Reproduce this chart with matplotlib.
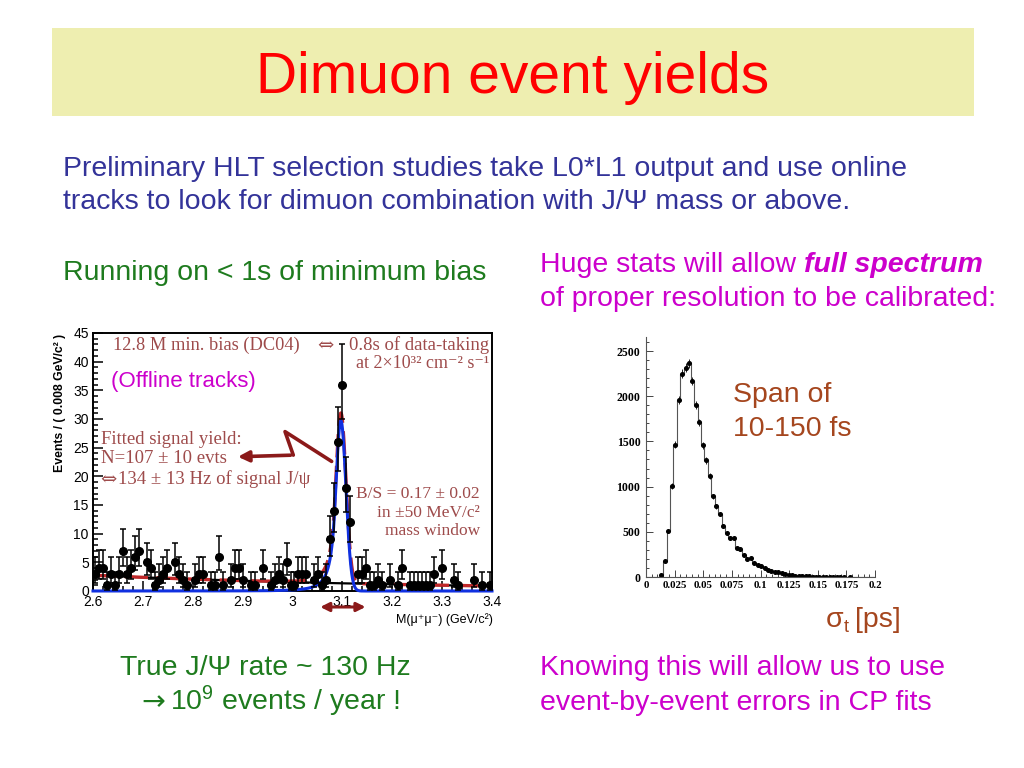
import numpy as np
import matplotlib
matplotlib.use("Agg")
import matplotlib.pyplot as plt
from matplotlib.patches import Rectangle
from matplotlib.ticker import MultipleLocator, FixedLocator, FuncFormatter

# ---------------- data: dimuon mass spectrum (left) ----------------
mass_lo = 2.6
mass_hi = 3.4
mass_bin = 0.008
mass_counts = [3, 4, 4, 1, 3, 1, 3, 7, 3, 4, 6, 7,
               0, 5, 4, 1, 2, 3, 4, 0, 5, 3, 2, 1,
               0, 2, 3, 3, 0, 1, 1, 6, 1, 0, 2, 4,
               4, 2, 0, 1, 1, 0, 4, 0, 1, 2, 3, 2,
               5, 1, 1, 3, 3, 3, 0, 2, 3, 1, 2,
               9, 14, 26, 36, 18, 12,
               0, 3, 3, 4, 1, 1, 2, 1, 0, 2, 0, 1,
               4, 0, 1, 1, 1, 1, 1, 1, 3, 0, 4, 0,
               0, 2, 1, 0, 0, 0, 2, 0, 1, 0, 1]

# fit parameters (Crystal-Ball signal + exponential background)
fit_mean = 3.097
fit_sigma = 0.0102
fit_nsig = 107
fit_alpha = 1.2
fit_n = 3.0
bkg_at_lo = 2.75      # events / bin at 2.6
bkg_at_hi = 0.87      # events / bin at 3.4

mass_xticks = [2.6, 2.7, 2.8, 2.9, 3.0, 3.1, 3.2, 3.3, 3.4]
mass_yticks = [0, 5, 10, 15, 20, 25, 30, 35, 40, 45]

# ---------------- data: sigma_t distribution (right) ----------------
sigt_bin = 0.003
sigt_counts = [0, 0, 0, 0, 26, 177, 505, 1010, 1464, 1962, 2249, 2316,
               2364, 2168, 1899, 1711, 1456, 1290, 1121, 892, 785, 697,
               564, 487, 435, 428, 324, 310, 247, 195, 206, 159, 133, 122,
               100, 74, 70, 55, 52, 40, 30, 25, 20, 15, 12, 10, 8, 6, 5,
               4, 4, 3, 3, 2, 2, 1, 1, 1, 0, 1, 0, 0, 0, 0, 0, 0, 0]
sigt_xticks = [0, 0.025, 0.05, 0.075, 0.1, 0.125, 0.15, 0.175, 0.2]
sigt_yticks = [0, 500, 1000, 1500, 2000, 2500]

# ---------------- style ----------------
plt.rcParams["font.family"] = ["Liberation Sans", "DejaVu Sans"]
plt.rcParams["mathtext.fontset"] = "custom"
plt.rcParams["mathtext.rm"] = "Liberation Sans"
plt.rcParams["mathtext.it"] = "Liberation Sans:italic"
plt.rcParams["mathtext.bf"] = "Liberation Sans:bold"

W, H = 1024, 768
fig = plt.figure(figsize=(W / 100, H / 100), dpi=100)
fig.patch.set_facecolor("white")


def fx(x):
    return x / W


def fy(y):
    return 1 - y / H


SERIF = ["Liberation Serif", "DejaVu Serif"]
SANS = ["Liberation Sans", "DejaVu Sans"]
NAVY = "#333399"
GREEN = "#1E7B1E"
MAGENTA = "#CC00CC"
BROWN = "#A5461E"
ROOTRED = "#9E4B4B"
ARROWRED = "#8B1A1A"
BODY = 20.5

# title band
fig.patches.append(Rectangle((fx(52), fy(116)), fx(922), 88 / H,
                             transform=fig.transFigure, facecolor="#EEEEB0",
                             edgecolor="none", zorder=0))
fig.text(fx(513), fy(93), "Dimuon event yields", color="#FF0000",
         fontsize=41, ha="center", va="baseline", family=SANS)

# body text
fig.text(fx(63), fy(176), "Preliminary HLT selection studies take L0*L1 output and use online",
         color=NAVY, fontsize=BODY, va="baseline", family=SANS)
fig.text(fx(63), fy(209), "tracks to look for dimuon combination with J/\u03a8 mass or above.",
         color=NAVY, fontsize=BODY, va="baseline", family=SANS)
fig.text(fx(63), fy(280), "Running on < 1s of minimum bias",
         color=GREEN, fontsize=BODY, va="baseline", family=SANS)

t1 = fig.text(fx(540), fy(272), "Huge stats will allow ", color=MAGENTA,
              fontsize=BODY, va="baseline", family=SANS)
fig.canvas.draw()
bb = t1.get_window_extent(renderer=fig.canvas.get_renderer())
fig.text(bb.x1 / W, fy(272), "full spectrum", color=MAGENTA, fontsize=BODY,
         va="baseline", family=SANS, fontweight="bold", fontstyle="italic")
fig.text(fx(540), fy(306), "of proper resolution to be calibrated:",
         color=MAGENTA, fontsize=BODY, va="baseline", family=SANS)

fig.text(fx(120), fy(675), "True J/\u03a8 rate ~ 130 Hz", color=GREEN,
         fontsize=BODY, va="baseline", family=SANS)
fig.text(fx(141), fy(710), "\u2192", color=GREEN, fontsize=BODY,
         va="baseline", family=["DejaVu Sans"])
fig.text(fx(170), fy(710), "10$^{9}$ events / year !", color=GREEN,
         fontsize=BODY, va="baseline", family=SANS)
fig.text(fx(540), fy(675), "Knowing this will allow us to use", color=MAGENTA,
         fontsize=BODY, va="baseline", family=SANS)
fig.text(fx(540), fy(710), "event-by-event errors in CP fits", color=MAGENTA,
         fontsize=BODY, va="baseline", family=SANS)

fig.text(fx(733), fy(402), "Span of", color=BROWN, fontsize=BODY,
         va="baseline", family=SANS)
fig.text(fx(733), fy(436), "10-150 fs", color=BROWN, fontsize=BODY,
         va="baseline", family=SANS)
fig.text(fx(826), fy(627), "\u03c3", color=BROWN, fontsize=BODY,
         va="baseline", family=SANS)
fig.text(fx(844), fy(632), "t", color=BROWN, fontsize=13,
         va="baseline", family=SANS)
fig.text(fx(855), fy(627), "[ps]", color=BROWN, fontsize=BODY,
         va="baseline", family=SANS)

# ---------------- left plot ----------------
ax1 = fig.add_axes([fx(93), fy(591), fx(399), 258 / H])
counts = np.array(mass_counts, dtype=float)
centers = mass_lo + mass_bin * (np.arange(len(counts)) + 0.5)
sel = counts > 0
n = counts[sel]
err_up = np.sqrt(n + 0.75) + 1.0
err_lo = np.sqrt(n - 0.25)

# fit curves
m = np.linspace(mass_lo, mass_hi, 2000)
t = (m - fit_mean) / fit_sigma
A = (fit_n / fit_alpha) ** fit_n * np.exp(-fit_alpha ** 2 / 2)
B = fit_n / fit_alpha - fit_alpha
cb = np.where(t > -fit_alpha, np.exp(-0.5 * t ** 2),
              A * np.abs(B - t) ** (-fit_n))
cb = cb / (np.sum(cb) * (m[1] - m[0]))
sig = fit_nsig * mass_bin * cb
slope = np.log(bkg_at_lo / bkg_at_hi) / (mass_hi - mass_lo)
bkg = bkg_at_lo * np.exp(-slope * (m - mass_lo))

ax1.plot(m, bkg + sig, color="#C0282A", lw=2.4, dashes=(7, 2.5), zorder=3)
ax1.plot(m, bkg, color="black", lw=1.6, zorder=2)
ax1.plot(m, sig, color="#1030E0", lw=2.2, zorder=4, clip_on=False)
ax1.errorbar(centers[sel], n, yerr=[err_lo, err_up], xerr=mass_bin / 2,
             fmt="o", color="black", ms=5.5, elinewidth=1.1, capsize=2,
             capthick=1.1, zorder=5)

ax1.set_xlim(mass_lo, mass_hi)
ax1.set_ylim(0, 45)
ax1.xaxis.set_major_locator(FixedLocator(mass_xticks))
ax1.yaxis.set_major_locator(FixedLocator(mass_yticks))
ax1.xaxis.set_minor_locator(MultipleLocator(0.02))
ax1.yaxis.set_minor_locator(MultipleLocator(1))
ax1.xaxis.set_major_formatter(FuncFormatter(lambda v, p: "%g" % v))
ax1.tick_params(which="both", direction="in", top=False, right=False,
                labelsize=10, width=1.1)
ax1.tick_params(which="major", length=7)
ax1.tick_params(which="minor", length=3.5)
ax1.tick_params(axis="y", pad=3)
ax1.tick_params(axis="x", pad=3)
for s in ax1.spines.values():
    s.set_linewidth(1.4)

fig.text(fx(60), fy(403), "Events / ( 0.008 GeV/c\u00b2 )", rotation=90,
         fontsize=8.8, fontweight="bold", ha="center", va="center", family=SANS)
fig.text(fx(493), fy(623), "M(\u03bc\u207a\u03bc\u207b) (GeV/c\u00b2)",
         fontsize=9, ha="right", va="baseline", family=SANS)

# annotations inside left plot
fig.text(fx(113), fy(350), "12.8 M min. bias (DC04)", color=ROOTRED,
         fontsize=13.2, va="baseline", family=SERIF)
fig.text(fx(317), fy(350), "\u21d4", color=ROOTRED, fontsize=14,
         va="baseline", family=["DejaVu Serif"])
fig.text(fx(489), fy(350), "0.8s of data-taking", color=ROOTRED,
         fontsize=13.5, va="baseline", ha="right", family=SERIF)
fig.text(fx(489), fy(368), "at 2\u00d710\u00b3\u00b2 cm\u207b\u00b2 s\u207b\u00b9",
         color=ROOTRED, fontsize=13, va="baseline", ha="right", family=SERIF)
fig.text(fx(111), fy(387), "(Offline tracks)", color=MAGENTA, fontsize=16,
         va="baseline", family=SANS)
fig.text(fx(101), fy(444), "Fitted signal yield:", color=ROOTRED,
         fontsize=13.5, va="baseline", family=SERIF)
fig.text(fx(101), fy(463), "N=107 \u00b1 10 evts", color=ROOTRED,
         fontsize=13.5, va="baseline", family=SERIF)
fig.text(fx(100), fy(484), "\u21d4", color=ROOTRED, fontsize=14,
         va="baseline", family=["DejaVu Serif"])
fig.text(fx(118), fy(484), "134 \u00b1 13 Hz of signal J/\u03c8",
         color=ROOTRED, fontsize=13.5, va="baseline", family=SERIF)
fig.text(fx(480), fy(498), "B/S = 0.17 \u00b1 0.02", color=ROOTRED,
         fontsize=12.5, va="baseline", ha="right", family=SERIF)
fig.text(fx(480), fy(517), "in \u00b150 MeV/c\u00b2", color=ROOTRED,
         fontsize=12.5, va="baseline", ha="right", family=SERIF)
fig.text(fx(480), fy(535), "mass window", color=ROOTRED,
         fontsize=12.5, va="baseline", ha="right", family=SERIF)

# hand-drawn arrow
ax1.plot([3.0785, 2.985, 3.0016], [22.6, 27.8, 23.7], color=ARROWRED,
         lw=2.6, solid_capstyle="round", solid_joinstyle="round", zorder=6)
ax1.annotate("", xy=(2.885, 23.4), xytext=(3.0016, 23.7),
             arrowprops=dict(arrowstyle="-|>", color=ARROWRED, lw=2.6,
                             mutation_scale=16), zorder=6)
# mass window double arrow below the axis
ax1.annotate("", xy=(3.05, -0.062), xytext=(3.152, -0.062),
             xycoords=ax1.get_xaxis_transform(),
             arrowprops=dict(arrowstyle="<|-|>", color=ARROWRED, lw=2.2,
                             mutation_scale=13),
             annotation_clip=False)

# ---------------- right plot ----------------
ax2 = fig.add_axes([fx(646), fy(577), fx(229), 240 / H])
sc = np.array(sigt_counts, dtype=float)
edges = sigt_bin * np.arange(len(sc) + 1)
ax2.stairs(sc, edges, color="#555555", lw=0.8, baseline=None)
sc_c = sigt_bin * (np.arange(len(sc)) + 0.5)
ok = sc > 0
ax2.errorbar(sc_c[ok], sc[ok], yerr=np.sqrt(sc[ok]), fmt="o", color="black",
             ms=2.6, elinewidth=0.6, capsize=0)
ax2.set_xlim(0, 0.2)
ax2.set_ylim(0, 2655)
ax2.xaxis.set_major_locator(FixedLocator(sigt_xticks))
ax2.yaxis.set_major_locator(FixedLocator(sigt_yticks))
ax2.xaxis.set_minor_locator(MultipleLocator(0.005))
ax2.yaxis.set_minor_locator(MultipleLocator(100))
ax2.xaxis.set_major_formatter(FuncFormatter(lambda v, p: "%g" % v))
ax2.tick_params(which="both", direction="in", top=False, right=False,
                width=0.7, colors="#444444")
ax2.tick_params(which="major", length=5)
ax2.tick_params(which="minor", length=2.5)
ax2.tick_params(axis="y", pad=4)
ax2.tick_params(axis="x", pad=3)
for lab in ax2.get_xticklabels():
    lab.set_fontfamily(SERIF)
    lab.set_fontweight("bold")
    lab.set_fontsize(7.8)
    lab.set_color("black")
for lab in ax2.get_yticklabels():
    lab.set_fontfamily(SERIF)
    lab.set_fontweight("bold")
    lab.set_fontsize(8.5)
    lab.set_color("black")
for side in ("top", "right"):
    ax2.spines[side].set_visible(False)
for side in ("left", "bottom"):
    ax2.spines[side].set_linewidth(0.8)
    ax2.spines[side].set_color("#555555")

fig.savefig("out.png", dpi=100)
